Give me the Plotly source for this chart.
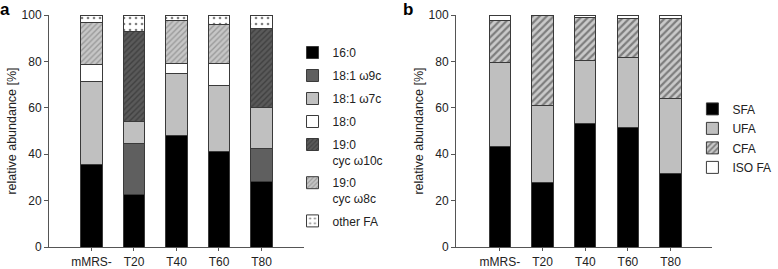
import plotly.graph_objects as go

categories = ["mMRS-", "T20", "T40", "T60", "T80"]

# Panel a: individual fatty acid fractions (%)
fa_names = ["16:0", "18:1 ω9c", "18:1 ω7c", "18:0", "19:0<br>cyc ω10c", "19:0<br>cyc ω8c", "other FA"]
fa_16_0 = [35.5, 22.7, 48.1, 41.1, 28.4]
fa_18_1w9c = [0.0, 21.7, 0.0, 0.0, 14.0]
fa_18_1w7c = [35.9, 9.6, 26.5, 28.6, 17.6]
fa_18_0 = [7.3, 0.0, 4.4, 9.3, 0.0]
fa_19_0w10c = [0.0, 39.1, 0.0, 0.0, 34.0]
fa_19_0w8c = [18.1, 0.0, 18.6, 16.8, 0.0]
fa_other = [3.2, 6.9, 2.4, 4.2, 6.0]

# Panel b: fatty acid groups (%)
grp_names = ["SFA", "UFA", "CFA", "ISO FA"]
sfa = [43.2, 27.6, 53.1, 51.6, 31.8]
ufa = [36.5, 33.3, 27.4, 30.2, 32.1]
cfa = [17.9, 39.1, 18.3, 16.6, 34.4]
iso = [2.4, 0.0, 1.2, 1.6, 1.7]

LINE = dict(color="#3a3a3a", width=1)
FONT = "Liberation Sans, Arial, sans-serif"
TXT = "#222222"

styles_a = [
    dict(color="#000000"),
    dict(color="#5f5f5f"),
    dict(color="#c0c0c0"),
    dict(color="#ffffff"),
    dict(color="#555555", pattern=dict(shape="/", bgcolor="#5a5a5a", fgcolor="#262626", size=4, solidity=0.35)),
    dict(color="#c4c4c4", pattern=dict(shape="/", bgcolor="#c6c6c6", fgcolor="#6e6e6e", size=4, solidity=0.35)),
    dict(color="#ffffff", pattern=dict(shape=".", bgcolor="#ffffff", fgcolor="#000000", size=6, solidity=0.15)),
]
styles_b = [
    dict(color="#000000"),
    dict(color="#bfbfbf"),
    dict(color="#c8c8c8", pattern=dict(shape="/", bgcolor="#cacaca", fgcolor="#303030", size=5, solidity=0.45)),
    dict(color="#ffffff"),
]

fig = go.Figure()
series_a = [fa_16_0, fa_18_1w9c, fa_18_1w7c, fa_18_0, fa_19_0w10c, fa_19_0w8c, fa_other]
for i, (name, vals, st) in enumerate(zip(fa_names, series_a, styles_a)):
    fig.add_trace(go.Bar(x=categories, y=vals, name=name, xaxis="x", yaxis="y",
                         marker=dict(line=LINE, **st), width=0.5, legend="legend",
                         legendgroup="a%d" % i))
series_b = [sfa, ufa, cfa, iso]
for i, (name, vals, st) in enumerate(zip(grp_names, series_b, styles_b)):
    fig.add_trace(go.Bar(x=categories, y=vals, name=name, xaxis="x2", yaxis="y2",
                         marker=dict(line=LINE, **st), width=0.5, legend="legend2",
                         legendgroup="b%d" % i))

axis_common = dict(showline=True, linecolor="#555555", linewidth=1, ticks="outside",
                   tickcolor="#555555", showgrid=False, zeroline=False, automargin=False,
                   tickfont=dict(family=FONT, size=12, color=TXT))
xcommon = dict(axis_common, ticklen=3, ticklabelstandoff=1)
ycommon = dict(axis_common, ticklen=4, range=[0, 100], tickvals=[0, 20, 40, 60, 80, 100],
               title=dict(text="relative abundance [%]", font=dict(family=FONT, size=12.5, color=TXT), standoff=2))

fig.update_layout(
    width=778, height=269,
    margin=dict(l=0, r=0, t=15, b=22),
    paper_bgcolor="white", plot_bgcolor="white",
    barmode="stack", bargap=0.5,
    font=dict(family=FONT, size=12, color=TXT),
    xaxis=dict(xcommon, domain=[0.063, 0.3907], range=[-1.0, 5.0], anchor="y"),
    yaxis=dict(ycommon, domain=[0, 1], anchor="x"),
    xaxis2=dict(xcommon, domain=[0.5861, 0.9152], range=[-1.03, 4.97], anchor="y2"),
    yaxis2=dict(ycommon, domain=[0, 1], anchor="x2"),
    legend=dict(x=0.376, y=0.9, xanchor="left", yanchor="top", traceorder="grouped",
                valign="top", bgcolor="rgba(0,0,0,0)", font=dict(family=FONT, size=12, color=TXT),
                itemwidth=30, tracegroupgap=4),
    legend2=dict(x=0.89, y=0.657, xanchor="left", yanchor="top", traceorder="grouped",
                 valign="top", bgcolor="rgba(0,0,0,0)", font=dict(family=FONT, size=12, color=TXT),
                 itemwidth=30, tracegroupgap=0.5),
    showlegend=True,
    annotations=[
        dict(text="<b>a</b>", x=-0.003, y=1.075, xref="paper", yref="paper", xanchor="left", yanchor="top",
             showarrow=False, font=dict(family=FONT, size=17, color="#000000")),
        dict(text="<b>b</b>", x=0.515, y=1.075, xref="paper", yref="paper", xanchor="left", yanchor="top",
             showarrow=False, font=dict(family=FONT, size=17, color="#000000")),
    ],
)

fig.write_html("out.html", config={"displayModeBar": False},
               post_script="document.body.style.margin='0';")
